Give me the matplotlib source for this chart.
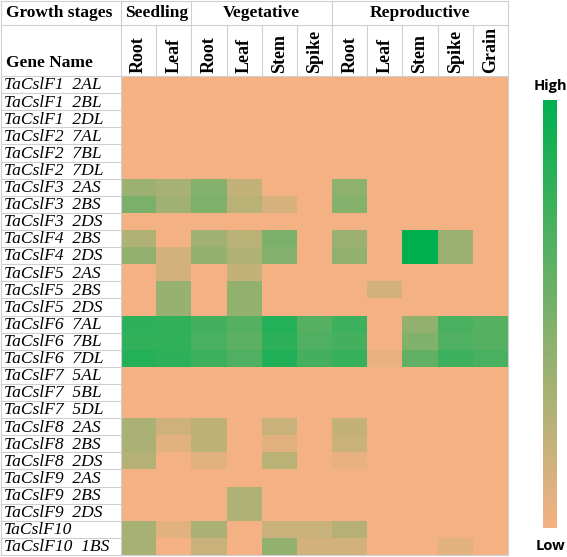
import numpy as np
import matplotlib
matplotlib.use("Agg")
import matplotlib.pyplot as plt
from matplotlib.colors import LinearSegmentedColormap

# stages and tissues (columns)
stages = ["Seedling", "Vegetative", "Reproductive"]
stage_spans = [2, 4, 5]
tissues = ["Root", "Leaf", "Root", "Leaf", "Stem", "Spike",
           "Root", "Leaf", "Stem", "Spike", "Grain"]

genes = ["TaCslF1  2AL", "TaCslF1  2BL", "TaCslF1  2DL",
         "TaCslF2  7AL", "TaCslF2  7BL", "TaCslF2  7DL",
         "TaCslF3  2AS", "TaCslF3  2BS", "TaCslF3  2DS",
         "TaCslF4  2BS", "TaCslF4  2DS",
         "TaCslF5  2AS", "TaCslF5  2BS", "TaCslF5  2DS",
         "TaCslF6  7AL", "TaCslF6  7BL", "TaCslF6  7DL",
         "TaCslF7  5AL", "TaCslF7  5BL", "TaCslF7  5DL",
         "TaCslF8  2AS", "TaCslF8  2BS", "TaCslF8  2DS",
         "TaCslF9  2AS", "TaCslF9  2BS", "TaCslF9  2DS",
         "TaCslF10", "TaCslF10  1BS"]

# relative expression, 0 = low, 1 = high
expr = [
    [0, 0, 0, 0, 0, 0, 0, 0, 0, 0, 0],
    [0, 0, 0, 0, 0, 0, 0, 0, 0, 0, 0],
    [0, 0, 0, 0, 0, 0, 0, 0, 0, 0, 0],
    [0, 0, 0, 0, 0, 0, 0, 0, 0, 0, 0],
    [0, 0, 0, 0, 0, 0, 0, 0, 0, 0, 0],
    [0, 0, 0, 0, 0, 0, 0, 0, 0, 0, 0],
    [0.36, 0.32, 0.46, 0.20, 0, 0, 0.42, 0, 0, 0, 0],
    [0.50, 0.34, 0.48, 0.24, 0.12, 0, 0.46, 0, 0, 0, 0],
    [0, 0, 0, 0, 0, 0, 0, 0, 0, 0, 0],
    [0.28, 0, 0.34, 0.24, 0.50, 0, 0.36, 0, 1.0, 0.36, 0],
    [0.40, 0.14, 0.40, 0.28, 0.46, 0, 0.40, 0, 1.0, 0.36, 0],
    [0, 0.14, 0, 0.20, 0, 0, 0, 0, 0, 0, 0],
    [0, 0.38, 0, 0.40, 0, 0, 0, 0.14, 0, 0, 0],
    [0, 0.38, 0, 0.40, 0, 0, 0, 0, 0, 0, 0],
    [0.82, 0.80, 0.72, 0.65, 0.85, 0.65, 0.75, 0, 0.40, 0.70, 0.65],
    [0.80, 0.80, 0.70, 0.62, 0.82, 0.68, 0.72, 0, 0.47, 0.68, 0.65],
    [0.85, 0.82, 0.75, 0.68, 0.86, 0.72, 0.78, 0.05, 0.60, 0.75, 0.70],
    [0, 0, 0, 0, 0, 0, 0, 0, 0, 0, 0],
    [0, 0, 0, 0, 0, 0, 0, 0, 0, 0, 0],
    [0, 0, 0, 0, 0, 0, 0, 0, 0, 0, 0],
    [0.30, 0.16, 0.22, 0, 0.18, 0, 0.20, 0, 0, 0, 0],
    [0.30, 0.08, 0.22, 0, 0.08, 0, 0.18, 0, 0, 0, 0],
    [0.26, 0, 0.08, 0, 0.24, 0, 0.05, 0, 0, 0, 0],
    [0, 0, 0, 0, 0, 0, 0, 0, 0, 0, 0],
    [0, 0, 0, 0.28, 0, 0, 0, 0, 0, 0, 0],
    [0, 0, 0, 0.28, 0, 0, 0, 0, 0, 0, 0],
    [0.32, 0.08, 0.30, 0, 0.18, 0.18, 0.26, 0, 0, 0, 0],
    [0.32, 0, 0.18, 0, 0.40, 0.14, 0.14, 0, 0, 0.08, 0],
]
data = np.array(expr)

cmap = LinearSegmentedColormap.from_list("lowhigh", ["#F4B183", "#00B050"])
serif = "Liberation Serif"
grid_c = "#cfcfcf"

fig = plt.figure(figsize=(5.67, 5.57), dpi=100)
W, H = 567, 557
x0, x1, y0, y1 = 121, 508, 76, 555
ax = fig.add_axes([x0 / W, 1 - y1 / H, (x1 - x0) / W, (y1 - y0) / H])

nrow, ncol = data.shape
ax.pcolormesh(np.arange(ncol + 1), np.arange(nrow + 1), data,
              cmap=cmap, vmin=0, vmax=1, shading="flat")
ax.set_xlim(0, ncol)
ax.set_ylim(nrow, 0)
ax.axis("off")

# pixel -> data helpers
cw = (x1 - x0) / ncol
rh = (y1 - y0) / nrow
lab_left = -(x0 - 1) / cw
top = -(y0 - 1) / rh
mid = -(y0 - 25) / rh

def hline(y, xa, xb):
    ax.plot([xa, xb], [y, y], color=grid_c, lw=0.8, clip_on=False)

def vline(x, ya, yb):
    ax.plot([x, x], [ya, yb], color=grid_c, lw=0.8, clip_on=False)

# table borders
hline(top, lab_left, ncol)
hline(mid, lab_left, ncol)
hline(0, lab_left, ncol)
hline(nrow, lab_left, ncol)
vline(lab_left, top, nrow)
vline(0, top, nrow)
vline(ncol, top, nrow)
for i in range(1, nrow):
    hline(i, lab_left, 0)
for j in range(1, ncol):
    vline(j, mid, 0)
pos = 0
for span in stage_spans[:-1]:
    pos += span
    vline(pos, top, mid)

# header text
ax.text(lab_left + 5 / cw, (top + mid) / 2, "Growth stages", family=serif,
        weight="bold", fontsize=12.5, ha="left", va="center", clip_on=False)
ax.text(lab_left + 5 / cw, -0.3, "Gene Name", family=serif,
        weight="bold", fontsize=12.5, ha="left", va="bottom", clip_on=False)
pos = 0
for name, span in zip(stages, stage_spans):
    ax.text(pos + span / 2, (top + mid) / 2, name, family=serif,
            weight="bold", fontsize=12.5, ha="center", va="center",
            clip_on=False)
    pos += span
for j, t in enumerate(tissues):
    ax.text(j + 0.5, -0.2, t, family=serif, weight="bold", fontsize=13,
            rotation=90, ha="center", va="bottom", clip_on=False)

for i, g in enumerate(genes):
    ax.text(lab_left + 3 / cw, i + 0.55, g, family=serif, style="italic",
            fontsize=12.6, ha="left", va="center", clip_on=False)

# colour bar
cax = fig.add_axes([543 / W, 1 - 528 / H, 14 / W, 428 / H])
sm = plt.cm.ScalarMappable(cmap=cmap, norm=plt.Normalize(0, 1))
cb = fig.colorbar(sm, cax=cax)
cb.outline.set_visible(False)
cb.set_ticks([])
fig.text(550 / W, 1 - 86 / H, "High", family="Open Sans", weight="bold",
         fontsize=10.5, ha="center", va="center")
fig.text(550 / W, 1 - 546 / H, "Low", family="Open Sans", weight="bold",
         fontsize=10.5, ha="center", va="center")

fig.savefig("out.png", dpi=100)
